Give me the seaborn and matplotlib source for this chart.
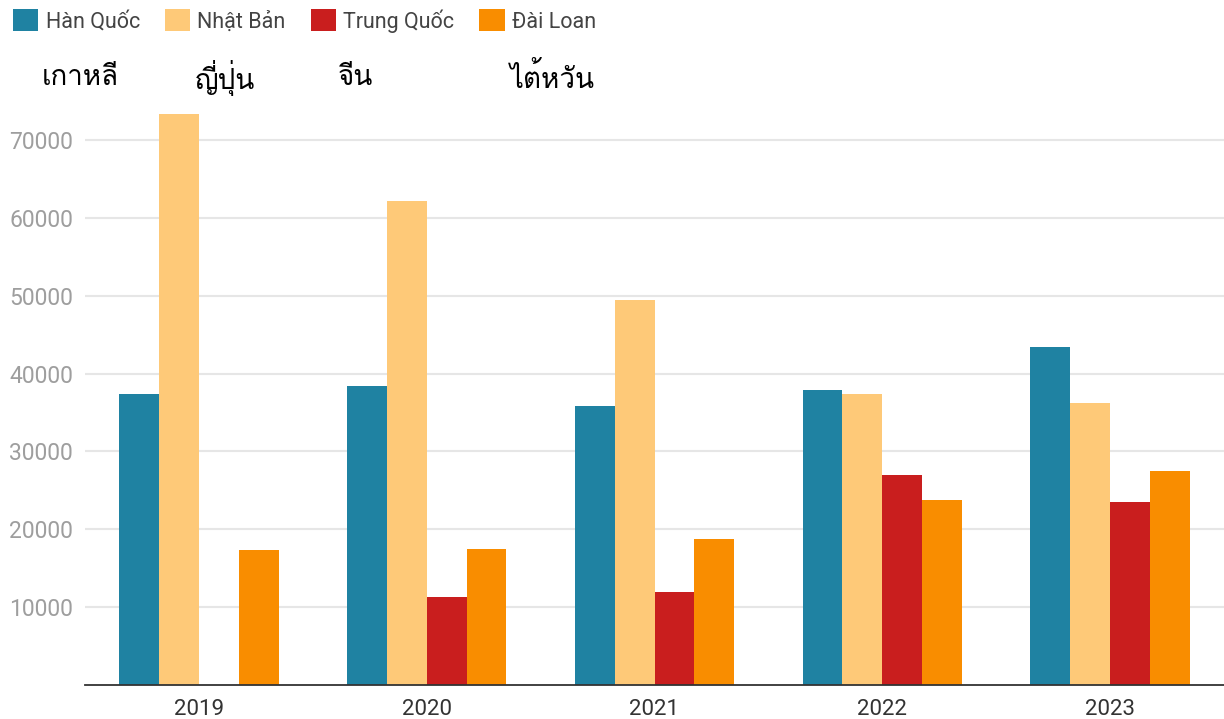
import numpy as np
import pandas as pd
import matplotlib
matplotlib.use("Agg")
import matplotlib.pyplot as plt
import seaborn as sns
from matplotlib import font_manager
from matplotlib.ft2font import FT2Font

years = ["2019", "2020", "2021", "2022", "2023"]
countries = ["Hàn Quốc", "Nhật Bản", "Trung Quốc", "Đài Loan"]
han_quoc = [37370, 38400, 35830, 37890, 43410]
nhat_ban = [73340, 62160, 49450, 37370, 36220]
trung_quoc = [np.nan, 11300, 11940, 26970, 23500]
dai_loan = [17340, 17470, 18750, 23760, 27490]
thai_labels = ["เกาหลี", "ญี่ปุ่น", "จีน", "ไต้หวัน"]
y_ticks = [10000, 20000, 30000, 40000, 50000, 60000, 70000]

colors = ["#1f82a2", "#fec978", "#c91e1e", "#f98d00"]

sns.set_theme(style="white")
plt.rcParams["font.family"] = ["Roboto", "DejaVu Sans"]

# find a font with Thai glyphs
thai_font = None
for f in font_manager.fontManager.ttflist:
    try:
        cm = FT2Font(f.fname).get_charmap()
        if ord("ก") in cm and ord("ั") in cm:
            thai_font = f.name
            break
    except Exception:
        pass
thai_family = [thai_font, "DejaVu Sans"] if thai_font else ["DejaVu Sans"]

df = pd.DataFrame({
    "year": np.repeat(years, 4),
    "country": countries * len(years),
    "value": np.ravel(np.column_stack([han_quoc, nhat_ban, trung_quoc, dai_loan])),
})

fig = plt.figure(figsize=(12.24, 7.19), dpi=100)
ax = fig.add_axes([85 / 1224, 34 / 719, 1 - 85 / 1224, (685 - 101) / 719])

sns.barplot(data=df, x="year", y="value", hue="country", hue_order=countries,
            palette=colors, width=0.7, saturation=1, linewidth=0, ax=ax,
            errorbar=None)

ax.set_xlim(-0.5, 4.5)
ax.set_ylim(0, 75000)
ax.set_yticks(y_ticks)
ax.set_yticklabels([str(v) for v in y_ticks])
ax.set_xlabel("")
ax.set_ylabel("")
ax.yaxis.grid(True, color="#e6e6e6", linewidth=1.5)
ax.set_axisbelow(True)
for s in ["top", "right", "left"]:
    ax.spines[s].set_visible(False)
ax.spines["bottom"].set_color("#333333")
ax.spines["bottom"].set_linewidth(1.3)
ax.tick_params(axis="y", length=0, pad=8.5, labelsize=16.5, labelcolor="#9e9e9e")
ax.tick_params(axis="x", length=0, pad=10, labelsize=16, labelcolor="#333333")

sns.move_legend(ax, loc="upper left", bbox_to_anchor=(-85 / 1224 + 0.004, 1 + 94 / 584),
                ncol=4, frameon=False, title=None, fontsize=15.5,
                handlelength=1.2, handleheight=1.2, handletextpad=0.33,
                columnspacing=1.15, borderaxespad=0, borderpad=0.1)
for t in ax.get_legend().get_texts():
    t.set_color("#444444")

thai_x = [42, 195, 338, 510]
for lbl, x in zip(thai_labels, thai_x):
    fig.text(x / 1224, 1 - 78 / 719, lbl, family=thai_family, fontsize=20,
             color="black", ha="left", va="center")

fig.savefig("out.png", dpi=100)
